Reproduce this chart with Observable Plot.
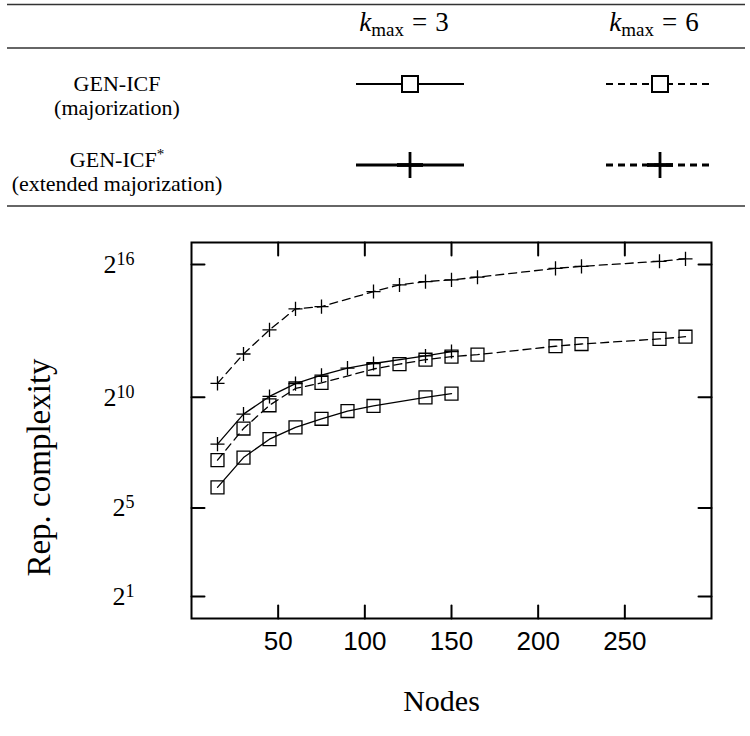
<!DOCTYPE html>
<html><head><meta charset="utf-8">
<script src="https://cdn.jsdelivr.net/npm/d3@7"></script>
<script src="https://cdn.jsdelivr.net/npm/@observablehq/plot@0.6"></script>
<style>
body{margin:0;background:#fff;}
#legend,#chart{width:750px;display:block;}
svg{display:block;}
</style></head><body>
<div id="legend"></div>
<div id="chart"></div>
<script>
// ---- data ----
const columnLabels = ["3", "6"];
const rowLabels = [["GEN-ICF", "(majorization)"], ["GEN-ICF", "(extended majorization)"]];

const nodesMajK3 = [15, 30, 45, 60, 75, 90, 105, 135, 150];
const repMajK3   = [61, 155, 276, 399, 523, 666, 781, 1024, 1152];

const nodesMajK6 = [15, 30, 45, 60, 75, 105, 120, 135, 150, 165, 210, 225, 270, 285];
const repMajK6   = [143, 385, 798, 1351, 1607, 2487, 2896, 3327, 3666, 3901, 5078, 5442, 6381, 6840];

const nodesExtK3 = [15, 30, 45, 60, 75, 90, 105, 135, 150];
const repExtK3   = [236, 605, 1053, 1574, 2048, 2557, 2957, 3743, 4299];

const nodesExtK6 = [15, 30, 45, 60, 75, 105, 120, 135, 150, 165, 210, 225, 270, 285];
const repExtK6   = [1585, 3983, 8477, 16384, 17560, 28140, 34650, 38440, 40640, 44160, 58270, 62020, 72700, 78460];

const xTicks = [50, 100, 150, 200, 250];
const yTicks = [2, 32, 1024, 65536];

const toRows = (xs, ys) => xs.map((x, i) => ({x, y: ys[i]}));
const majK3 = toRows(nodesMajK3, repMajK3);
const majK6 = toRows(nodesMajK6, repMajK6);
const extK3 = toRows(nodesExtK3, repExtK3);
const extK6 = toRows(nodesExtK6, repExtK6);

// ---- legend (table) ----
const serif = "Liberation Serif, DejaVu Serif, serif";
const L = d3.select("#legend").append("svg").attr("width", 750).attr("height", 215);
[4.5, 48, 206].forEach(y => L.append("line").attr("x1", 7).attr("x2", 745).attr("y1", y).attr("y2", y)
  .attr("stroke", "#333").attr("stroke-width", 1.6));
const colX = [410, 660];
columnLabels.forEach((v, i) => {
  const t = L.append("text").attr("x", colX[i] - 6).attr("y", 31).attr("text-anchor", "middle")
    .attr("font-family", serif).attr("font-size", 27);
  t.append("tspan").attr("font-style", "italic").text("k");
  t.append("tspan").attr("font-size", 19).attr("dy", 5).text("max");
  t.append("tspan").attr("dy", -5).attr("dx", 8).text("=");
  t.append("tspan").attr("dx", 8).text(v);
});
const rowY = [84, 165];
const textBase = [[91, 115], [167, 191]];
rowLabels.forEach((lab, r) => {
  const t1 = L.append("text").attr("x", 117).attr("y", textBase[r][0]).attr("text-anchor", "middle")
    .attr("font-family", serif).attr("font-size", 22).text(lab[0]);
  if (r === 1) t1.append("tspan").attr("font-size", 15).attr("dy", -8).text("*");
  L.append("text").attr("x", 117).attr("y", textBase[r][1]).attr("text-anchor", "middle")
    .attr("font-family", serif).attr("font-size", 22).text(lab[1]);
  colX.forEach((cx, c) => {
    L.append("line").attr("x1", cx - 54).attr("x2", cx + 54).attr("y1", rowY[r]).attr("y2", rowY[r])
      .attr("stroke", "#000").attr("stroke-width", r === 1 ? 2.8 : 2.2).attr("stroke-dasharray", c === 1 ? "7,5" : null);
    if (r === 0) {
      L.append("rect").attr("x", cx - 8).attr("y", rowY[r] - 8).attr("width", 16).attr("height", 16)
        .attr("fill", "#fff").attr("stroke", "#000").attr("stroke-width", 2);
    } else {
      L.append("line").attr("x1", cx - 13).attr("x2", cx + 13).attr("y1", rowY[r]).attr("y2", rowY[r])
        .attr("stroke", "#000").attr("stroke-width", 3.8);
      L.append("line").attr("x1", cx).attr("x2", cx).attr("y1", rowY[r] - 13).attr("y2", rowY[r] + 13)
        .attr("stroke", "#000").attr("stroke-width", 2.8);
    }
  });
});

// ---- plot ----
const tickShape = {draw(context, l) { context.moveTo(0, 0); context.lineTo(0, -l); }};
const lineOpts = {x: "x", y: "y", stroke: "#000", strokeWidth: 1.3};
const dash = "8,5";
const sq = {x: "x", y: "y", symbol: "square", r: 7.3, stroke: "#000", fill: "none", strokeWidth: 1.3};
const pl = {x: "x", y: "y", symbol: "plus", r: 4.6, stroke: "#000", fill: "none", strokeWidth: 1.3};

const chart = Plot.plot({
  width: 750, height: 521,
  marginTop: 27, marginBottom: 118, marginLeft: 191, marginRight: 39,
  style: {background: "#fff", color: "#000"},
  x: {domain: [0, 300]},
  y: {type: "log", base: 2, domain: [1, 131072]},
  marks: [
    Plot.line(majK3, lineOpts),
    Plot.line(extK3, lineOpts),
    Plot.line(majK6, {...lineOpts, strokeDasharray: dash}),
    Plot.line(extK6, {...lineOpts, strokeDasharray: dash}),
    Plot.dot(majK3, sq),
    Plot.dot(majK6, sq),
    Plot.dot(extK3, pl),
    Plot.dot(extK6, pl),
    Plot.vector(xTicks, {x: d => d, frameAnchor: "bottom", length: 13, anchor: "start", rotate: 0, shape: tickShape, stroke: "#000", strokeWidth: 2}),
    Plot.vector(xTicks, {x: d => d, frameAnchor: "top", length: 13, anchor: "start", rotate: 180, shape: tickShape, stroke: "#000", strokeWidth: 2}),
    Plot.vector(yTicks, {y: d => d, frameAnchor: "left", length: 13, anchor: "start", rotate: 90, shape: tickShape, stroke: "#000", strokeWidth: 2}),
    Plot.vector(yTicks, {y: d => d, frameAnchor: "right", length: 13, anchor: "start", rotate: -90, shape: tickShape, stroke: "#000", strokeWidth: 2}),
    Plot.frame({stroke: "#000", strokeWidth: 2}),
    Plot.axisX({ticks: xTicks, tickSize: 0, tickPadding: 13, fontSize: 26, fontFamily: "Liberation Sans, Arial, sans-serif", label: null}),
    Plot.axisY({ticks: yTicks, tickSize: 0, tickPadding: 57, fontSize: 26, fontFamily: serif, label: null, tickFormat: d => String(Math.round(Math.log2(d)))}),
    Plot.text(["Nodes"], {frameAnchor: "bottom", dy: 83, dx: -10, fontSize: 30, fontFamily: serif, textAnchor: "middle", lineAnchor: "middle"}),
    Plot.text(["Rep. complexity"], {frameAnchor: "left", dx: -152, dy: 37, rotate: -90, fontSize: 33, fontFamily: serif, textAnchor: "middle", lineAnchor: "middle"})
  ]
});
document.getElementById("chart").appendChild(chart);

// superscript exponents on the y tick labels
d3.select(chart).selectAll('g[aria-label="y-axis tick label"] text').each(function() {
  const exp = this.textContent;
  const t = d3.select(this);
  t.text("2");
  t.append("tspan").attr("font-size", 18).attr("dy", "-0.45em").text(exp);
});
</script>
</body></html>
